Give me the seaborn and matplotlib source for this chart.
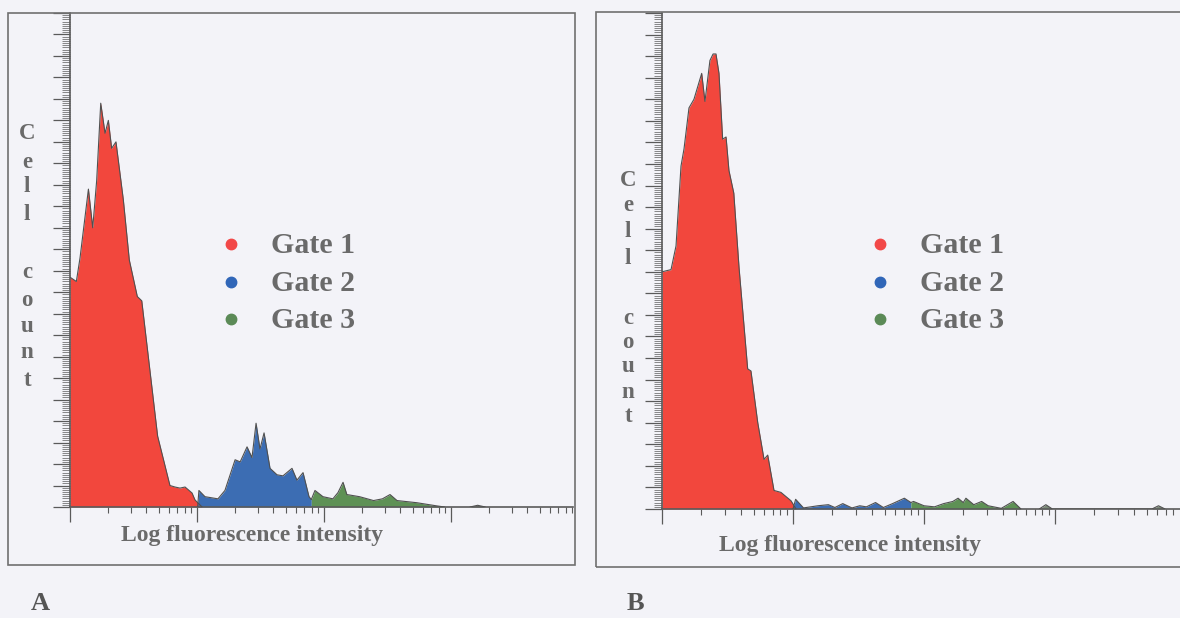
import numpy as np
import matplotlib
matplotlib.use("Agg")
import matplotlib.pyplot as plt
from matplotlib.lines import Line2D
from matplotlib.patches import Rectangle
from matplotlib.ticker import FixedLocator, MultipleLocator, NullFormatter
import seaborn as sns

# ---------------- data (x in log10 fluorescence units, y = cell count) -------------
gate_names = ["Gate 1", "Gate 2", "Gate 3"]

a_gate1_x = [0.0, 0.05, 0.079, 0.145, 0.179, 0.21, 0.242, 0.276, 0.302, 0.328, 0.362,
             0.42, 0.467, 0.53, 0.565, 0.69, 0.787, 0.827, 0.866, 0.906, 0.961, 0.984, 1.04]
a_gate1_y = [107, 105, 116, 148, 130, 152, 188, 174, 180, 167, 170,
             143, 115, 98, 96, 33, 10, 9.3, 8.8, 9.3, 6.5, 3.3, 0]
a_gate2_x = [1.005, 1.015, 1.063, 1.165, 1.22, 1.3, 1.34, 1.394, 1.433, 1.465, 1.496,
             1.528, 1.575, 1.63, 1.677, 1.748, 1.787, 1.835, 1.882, 1.9]
a_gate2_y = [0, 7.7, 4.8, 3.8, 7.7, 22, 21, 28, 23, 39, 27,
             34.5, 18, 15, 14.5, 18, 12.5, 16, 4.8, 3.5]
a_gate3_x = [1.9, 1.929, 1.992, 2.07, 2.11, 2.15, 2.18, 2.28, 2.39, 2.46, 2.52,
             2.575, 2.73, 2.89, 2.95]
a_gate3_y = [3.5, 7.7, 4.8, 3.8, 6.7, 11.5, 5.8, 4.8, 3.0, 3.8, 5.8,
             3.0, 2.0, 0.5, 0]
a_other_x = [3.15, 3.21, 3.27]
a_other_y = [0, 0.8, 0]

b_gate1_x = [0.0, 0.069, 0.107, 0.145, 0.168, 0.206, 0.244, 0.303, 0.328, 0.366, 0.39,
             0.412, 0.435, 0.463, 0.489, 0.511, 0.548, 0.588, 0.654, 0.679, 0.731,
             0.779, 0.807, 0.855, 0.908, 0.985, 1.023]
b_gate1_y = [110, 111, 122, 159, 167, 186, 190, 202, 189, 208, 211,
             211, 202, 171.5, 172.5, 157, 146.5, 112, 65, 64, 40,
             23, 25, 8.6, 7.7, 3.8, 0]
b_gate2_x = [1.0, 1.02, 1.08, 1.19, 1.27, 1.32, 1.38, 1.45, 1.51, 1.56, 1.63,
             1.69, 1.76, 1.85, 1.90]
b_gate2_y = [0, 4.5, 0.5, 1.5, 2.0, 0.7, 2.5, 0.5, 1.5, 1.0, 3.0,
             0.7, 2.5, 5.0, 3.0]
b_gate3_x = [1.90, 1.92, 2.0, 2.08, 2.15, 2.22, 2.26, 2.30, 2.32, 2.38, 2.44,
             2.49, 2.59, 2.68, 2.74]
b_gate3_y = [3.0, 3.5, 1.5, 1.0, 2.5, 3.5, 5.0, 3.0, 5.0, 2.0, 3.5,
             1.5, 0.3, 3.5, 0]
b_other_x = [2.88, 2.93, 2.98, 3.74, 3.79, 3.84]
b_other_y = [0, 2.0, 0, 0, 1.5, 0]

x_label = "Log fluorescence intensity"
y_label_letters = ["C", "e", "l", "l", "c", "o", "u", "n", "t"]
panel_letters = ["A", "B"]

# ---------------- style -----------------
W, H = 1180, 618
sns.set_theme(style="ticks")
plt.rcParams['font.family'] = ['Liberation Serif', 'DejaVu Serif']

BG = "#F3F3F8"
TXT = "#6A6A6A"
AXC = "#5A5A5A"
gate_colors = ["#F2473D", "#3C6DB3", "#5E9155"]
dot_colors = ["#F24848", "#3066B8", "#5B8A57"]

fig = plt.figure(figsize=(11.8, 6.18), dpi=100, facecolor=BG)


def fx(x):
    return x / W


def fy(y):
    return 1 - y / H


def make_axes(x0, x1, y0, y1, xmax):
    ax = fig.add_axes([fx(x0), fy(y1), (x1 - x0) / W, (y1 - y0) / H])
    ax.set_facecolor("none")
    ax.set_xlim(0, xmax)
    ax.set_ylim(0, 230)
    for s in ["top", "right"]:
        ax.spines[s].set_visible(False)
    for s in ["left", "bottom"]:
        ax.spines[s].set_color(AXC)
        ax.spines[s].set_linewidth(1.2)
    majors = [d for d in range(0, 5) if d <= xmax]
    minors = [d + np.log10(k) for d in range(0, 4) for k in range(2, 10) if d + np.log10(k) <= xmax]
    ax.xaxis.set_major_locator(FixedLocator(majors))
    ax.xaxis.set_minor_locator(FixedLocator(minors))
    ax.yaxis.set_major_locator(MultipleLocator(10))
    ax.yaxis.set_minor_locator(MultipleLocator(1))
    ax.xaxis.set_major_formatter(NullFormatter())
    ax.yaxis.set_major_formatter(NullFormatter())
    ax.tick_params(axis="x", which="major", direction="out", length=10.8, width=0.9, color=AXC)
    ax.tick_params(axis="x", which="minor", direction="out", length=4.3, width=0.8, color=AXC)
    ax.tick_params(axis="y", which="major", direction="out", length=12.2, width=0.9, color=AXC)
    ax.tick_params(axis="y", which="minor", direction="out", length=5.8, width=0.5, color=AXC)
    ax.set_xlabel("")
    ax.set_ylabel("")
    return ax


def draw_gate(ax, xs, ys, color):
    ax.fill_between(xs, 0, ys, color=color, lw=0, zorder=2)
    sns.lineplot(x=xs, y=ys, ax=ax, color="#505050", lw=0.8, estimator=None,
                 sort=False, zorder=3)


panels = [
    dict(axes=(70, 573, 13, 507), xmax=(573 - 70) / 127,
         gates=[(a_gate1_x, a_gate1_y), (a_gate2_x, a_gate2_y), (a_gate3_x, a_gate3_y)],
         other=(a_other_x, a_other_y),
         box=(8, 13, 575, 565),
         letters_x=27, letters_y=[133, 163, 187, 215, 273, 300, 327, 353, 380],
         dot_x=231, text_x=271, xlab=(252, 541), tag=(40, 604)),
    dict(axes=(662, 1180, 13, 509), xmax=(1180 - 662) / 131,
         gates=[(b_gate1_x, b_gate1_y), (b_gate2_x, b_gate2_y), (b_gate3_x, b_gate3_y)],
         other=(b_other_x, b_other_y),
         box=(596, 12, 1195, 567),
         letters_x=628, letters_y=[180, 206, 231, 258, 318, 343, 367, 392, 417],
         dot_x=880, text_x=920, xlab=(850, 551), tag=(635, 604)),
]

dot_y = [244, 282, 319]
text_base = [253, 291, 328]

for i, p in enumerate(panels):
    x0, x1, y0, y1 = p["axes"]
    ax = make_axes(x0, x1, y0, y1, p["xmax"])
    for (gx, gy), col in zip(p["gates"], gate_colors):
        draw_gate(ax, gx, gy, col)
    ox, oy = p["other"]
    draw_gate(ax, ox, oy, "#7A8A78")

    bx0, by0, bx1, by1 = p["box"]
    fig.add_artist(Rectangle((fx(bx0), fy(by1)), (bx1 - bx0) / W, (by1 - by0) / H,
                             transform=fig.transFigure, fill=False,
                             edgecolor="#707070", lw=1.2))

    for ch, ly in zip(y_label_letters, p["letters_y"]):
        fig.text(fx(p["letters_x"]), fy(ly), ch, ha="center", va="center",
                 fontsize=16.5, fontweight="bold", color=TXT)

    for name, col, dy, tb in zip(gate_names, dot_colors, dot_y, text_base):
        fig.add_artist(Line2D([fx(p["dot_x"])], [fy(dy)], transform=fig.transFigure,
                              marker="o", ms=7.5, color=col, ls=""))
        fig.text(fx(p["text_x"]), fy(tb), name, ha="left", va="baseline",
                 fontsize=21.5, fontweight="bold", color=TXT)

    fig.text(fx(p["xlab"][0]), fy(p["xlab"][1]), x_label, ha="center", va="baseline",
             fontsize=17, fontweight="bold", color=TXT)
    fig.text(fx(p["tag"][0]), fy(p["tag"][1]), panel_letters[i], ha="center",
             va="center", fontsize=19, fontweight="bold", color="#555555")

fig.savefig("out.png", dpi=100, facecolor=BG)
